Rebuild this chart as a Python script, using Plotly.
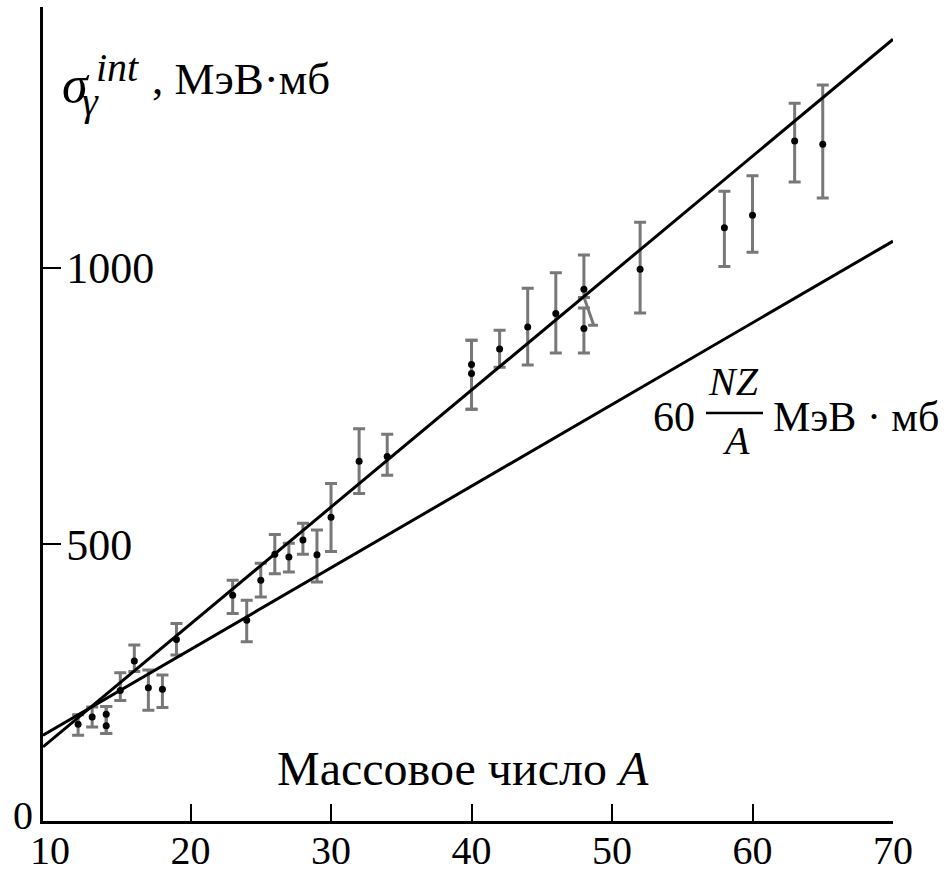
import plotly.graph_objects as go

# ---- data ----
A = [12, 13, 14, 14, 15, 16, 17, 18, 19, 23, 24, 25, 26, 27, 28, 29, 30,
     32, 34, 40, 40, 42, 44, 46, 48, 48, 52, 58, 60, 63, 65]
sigma = [175, 188, 193, 172, 236, 289, 241, 238, 328, 408, 363, 435, 482, 477, 508, 481, 549,
         650, 659, 825, 809, 853, 893, 917, 961, 890, 997, 1072, 1095, 1229, 1223]
err_hi = [192, 206, 207, 207, 268, 318, 273, 264, 357, 435, 399, 466, 518, 502, 538, 526, 610,
          709, 699, 869, 869, 887, 963, 991, 1023, 927, 1082, 1138, 1166, 1297, 1330]
err_lo = [155, 170, 158, 158, 218, 270, 200, 205, 300, 375, 324, 405, 447, 450, 482, 432, 487,
          592, 625, 744, 744, 820, 824, 846, 946, 846, 918, 1002, 1028, 1155, 1126]

# slanted (scan artefact) error-bar stroke near A = 48
slant_A = [48.0, 48.7, None, 48.3, 49.0]
slant_y = [947, 896, None, 896, 896]

line_A = [9.5, 70]
fit_y = [134, 1413]        # fitted straight line through the data
theory_y = [155, 1048]     # 60 NZ/A MeV*mb

x_ticks = [10, 20, 30, 40, 50, 60, 70]
x_minor_ticks = [20, 30, 40, 50, 60, 70]
y_ticks_in = [500, 1000]

up = [h - s for h, s in zip(err_hi, sigma)]
down = [s - l for s, l in zip(sigma, err_lo)]

SERIF = "Liberation Serif"

fig = go.Figure()
fig.add_trace(go.Scatter(
    x=A, y=sigma, mode="markers",
    marker=dict(color="black", size=7),
    error_y=dict(type="data", symmetric=False, array=up, arrayminus=down,
                 color="rgb(120,120,120)", thickness=3, width=6),
    showlegend=False, hoverinfo="x+y"))
fig.add_trace(go.Scatter(x=slant_A, y=slant_y, mode="lines",
                         line=dict(color="rgb(120,120,120)", width=3),
                         showlegend=False, hoverinfo="skip"))
fig.add_trace(go.Scatter(x=line_A, y=fit_y, mode="lines",
                         line=dict(color="black", width=3), showlegend=False))
fig.add_trace(go.Scatter(x=line_A, y=theory_y, mode="lines",
                         line=dict(color="black", width=3), showlegend=False))
# dummy trace to activate the overlay axes carrying the inside ticks
fig.add_trace(go.Scatter(x=[10], y=[0], xaxis="x2", yaxis="y2", mode="markers",
                         marker=dict(opacity=0), showlegend=False, hoverinfo="skip"))

W0, W1, H0, H1 = 43, 893, 7, 821
YMAX = (H1 - H0) / 0.5533


def px(x):
    return (x - W0) / (W1 - W0)


def py(y):
    return (H1 - y) / (H1 - H0)


def ann(text, x, y, size, xanchor="left"):
    return dict(text=text, x=px(x), y=py(y), xref="paper", yref="paper",
                xanchor=xanchor, yanchor="middle", showarrow=False,
                font=dict(family=SERIF, size=size, color="black"))


annotations = [
    ann("Массовое число <i>A</i>", 463, 768, 48, xanchor="center"),
    ann("<i>σ</i>", 60, 84, 52),
    ann("<i>int</i>", 94, 68, 40),
    ann("<i>γ</i>", 80, 101, 40),
    ann(", МэВ·мб", 150, 79, 45),
    ann("60", 651, 417, 42),
    ann("<i>NZ</i>", 733, 381, 40, xanchor="center"),
    ann("<i>A</i>", 736, 440, 40, xanchor="center"),
    ann("МэВ · мб", 771, 417, 42),
]

fig.update_layout(
    width=949, height=873,
    margin=dict(l=W0, r=949 - W1, t=H0, b=873 - H1, autoexpand=False),
    paper_bgcolor="white", plot_bgcolor="white",
    hovermode="closest",
    xaxis=dict(range=[9.5, 70], tickvals=x_ticks, ticktext=[str(v) for v in x_ticks],
               ticks="", ticklen=0, showline=True, linecolor="black", linewidth=3,
               showgrid=False, zeroline=False, ticklabelstandoff=-8, automargin=False,
               tickfont=dict(family=SERIF, size=40, color="black")),
    xaxis2=dict(range=[9.5, 70], overlaying="x", anchor="y2", side="bottom",
                tickvals=x_minor_ticks, ticks="inside", ticklen=17, tickwidth=2,
                tickcolor="black", showticklabels=False, showgrid=False,
                zeroline=False, showline=False, automargin=False),
    yaxis=dict(range=[0, YMAX], tickvals=[0], ticktext=["0"], ticks="", ticklen=0,
               showline=True, linecolor="black", linewidth=3, showgrid=False,
               zeroline=False, ticklabelstandoff=-1, ticklabelshift=-6, automargin=False,
               tickfont=dict(family=SERIF, size=40, color="black")),
    yaxis2=dict(range=[0, YMAX], overlaying="y", anchor="x2", side="left",
                tickvals=y_ticks_in, ticktext=[str(v) for v in y_ticks_in],
                ticks="inside", ticklen=18, tickwidth=2, tickcolor="black",
                ticklabelposition="inside", ticklabelstandoff=11, showgrid=False,
                zeroline=False, showline=False, automargin=False,
                tickfont=dict(family=SERIF, size=44, color="black")),
    annotations=annotations,
    shapes=[dict(type="line", xref="paper", yref="paper",
                 x0=px(706), x1=px(763), y0=py(413), y1=py(413),
                 line=dict(color="black", width=2.5))],
)

fig.write_html("out.html", config={"displayModeBar": False},
               post_script="document.body.style.margin='0px';document.body.style.padding='0px';")
